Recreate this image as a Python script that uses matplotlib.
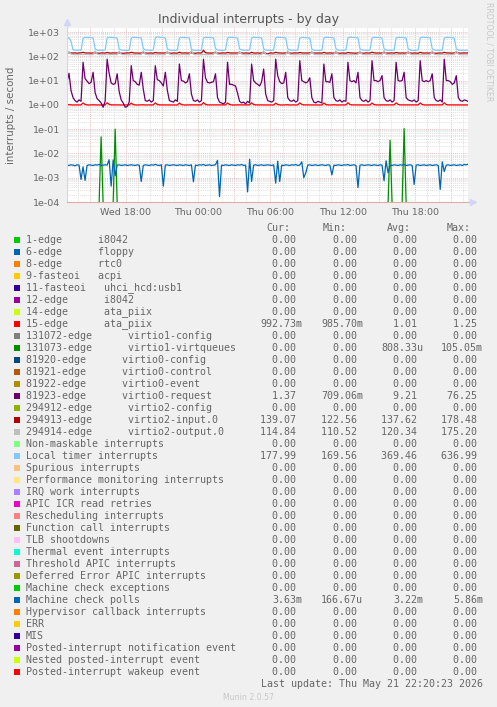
import matplotlib
matplotlib.use('Agg')
import matplotlib.pyplot as plt
from matplotlib.patches import Rectangle
from matplotlib.ticker import FixedLocator, LogLocator, NullFormatter, FuncFormatter
import numpy as np

W, H = 497, 707

# samples every 10 minutes, hours counted from Wed 00:00
t_first = 13.1

timer = [
    580, 575, 420, 185, 180, 178, 182, 176,
    560, 600, 590, 585, 590, 565, 205, 180, 176, 178, 175, 181,
    570, 610, 595, 590, 585, 560, 200, 182, 178, 175, 177, 180,
    565, 605, 600, 588, 590, 570, 210, 183, 177, 179, 176, 182,
    575, 637, 605, 595, 590, 565, 205, 181, 176, 178, 175, 180,
    560, 600, 592, 588, 585, 562, 200, 180, 175, 177, 176, 179,
    570, 615, 598, 590, 588, 568, 208, 184, 178, 176, 175, 181,
    565, 605, 596, 592, 586, 560, 202, 182, 177, 179, 176, 180,
    568, 610, 600, 590, 590, 566, 206, 181, 176, 178, 175, 182,
    572, 620, 602, 594, 588, 570, 204, 183, 178, 177, 176, 180,
    560, 600, 590, 586, 584, 560, 200, 180, 175, 176, 174, 179,
    566, 608, 597, 591, 587, 565, 207, 182, 177, 178, 176, 181,
    570, 612, 600, 593, 589, 567, 205, 183, 178, 176, 175, 180,
    563, 604, 594, 590, 586, 562, 203, 181, 176, 178, 177, 179,
    568, 610, 598, 592, 588, 566, 206, 182, 177, 175, 176, 181,
    571, 615, 601, 594, 590, 568, 204, 183, 178, 177, 175, 180,
    565, 606, 596, 591, 587, 563, 202, 181, 176, 178, 176, 179,
    178]

virtio0_request = [
    8.5, 20, 3.9, 2.0, 1.5, 1.3, 1.6, 1.4,
    57, 12, 9.5, 7.5, 8.5, 22, 3.2, 1.8, 1.5, 1.2, 0.8, 1.4,
    76.25, 20, 8, 7, 7.5, 19, 3.5, 1.6, 1.2, 0.8, 0.85, 1.3,
    41, 10, 9, 7, 6.5, 22, 4.5, 1.5, 1.4, 1.6, 1.3, 1.5,
    41, 11, 10, 8, 6, 22, 4, 1.5, 1.4, 1.3, 1.6, 1.4,
    48, 10, 9.5, 8, 9, 19, 2.8, 1.5, 1.4, 1.6, 1.3, 1.5,
    76, 13, 8.5, 8, 8.5, 9, 19, 2, 1.3, 1.2, 1.1, 1.3,
    57, 7, 7, 6.5, 6, 3, 1.4, 1.2, 1.3, 1.1, 1.4, 1.2,
    48, 10, 8, 7, 6, 9, 30, 2.8, 1.5, 1.4, 1.3, 1.5,
    76, 16, 9, 7.5, 8, 22, 2, 1.5, 1.4, 1.6, 1.3, 1.5,
    66, 10, 9, 8, 9, 13, 2, 1.3, 1.2, 1.4, 1.3, 1.2,
    48, 9, 9, 8.5, 19, 2, 1.5, 1.4, 1.6, 1.3, 1.5, 1.4,
    57, 10, 9, 10, 8, 22, 2, 1.5, 1.4, 1.6, 1.3, 1.5,
    66, 10, 10, 9, 10, 16, 2, 1.5, 1.4, 1.6, 1.3, 1.5,
    57, 10, 9.5, 10, 22, 2, 1.6, 1.5, 1.4, 1.6, 1.3, 1.5,
    66, 10, 9, 10, 9, 10, 19, 2, 1.5, 1.4, 1.6, 1.3,
    76, 10, 10, 9, 7, 8, 16, 2, 1.5, 1.4, 1.6, 1.5,
    1.37]

virtio2_input = [
    138, 140, 137, 136, 138, 135, 137, 139,
    145, 138, 136, 137, 135, 138, 140, 136, 134, 137, 138, 135,
    144, 137, 135, 138, 136, 137, 139, 135, 133, 136, 138, 136,
    146, 139, 136, 137, 134, 138, 141, 137, 135, 136, 137, 134,
    143, 138, 137, 135, 136, 139, 140, 136, 134, 137, 136, 135,
    147, 137, 136, 138, 135, 137, 139, 135, 133, 138, 137, 136,
    178, 140, 137, 136, 135, 138, 141, 136, 134, 136, 138, 135,
    144, 138, 136, 137, 136, 137, 140, 137, 135, 137, 136, 134,
    145, 137, 135, 138, 134, 138, 139, 135, 123, 136, 137, 135,
    146, 139, 137, 136, 135, 137, 140, 136, 134, 137, 138, 136,
    143, 138, 136, 137, 136, 138, 141, 137, 135, 136, 137, 135,
    145, 137, 135, 138, 135, 137, 139, 136, 133, 137, 136, 134,
    144, 138, 137, 136, 134, 138, 140, 135, 134, 138, 137, 136,
    147, 139, 136, 137, 136, 137, 141, 137, 135, 136, 138, 135,
    143, 138, 135, 138, 135, 138, 139, 136, 134, 137, 136, 134,
    146, 137, 136, 137, 136, 137, 140, 135, 133, 136, 137, 136,
    145, 138, 137, 136, 135, 138, 141, 137, 135, 137, 138, 136,
    139.07]

virtio2_output = [
    117, 160, 122, 118, 116, 117, 119, 118,
    118, 117, 119, 116, 118, 117, 168, 123, 117, 115, 118, 116,
    119, 116, 118, 117, 119, 116, 165, 122, 116, 118, 117, 115,
    117, 118, 116, 119, 117, 118, 170, 121, 118, 116, 117, 119,
    118, 116, 117, 118, 116, 117, 163, 124, 117, 115, 118, 116,
    116, 118, 119, 117, 118, 116, 175.2, 122, 116, 118, 117, 115,
    119, 117, 116, 118, 117, 119, 166, 121, 118, 116, 117, 118,
    117, 118, 116, 117, 119, 117, 160, 123, 117, 115, 118, 116,
    118, 116, 117, 119, 116, 118, 168, 122, 116, 111, 117, 119,
    117, 118, 116, 118, 117, 116, 171, 121, 118, 116, 117, 115,
    119, 117, 118, 116, 118, 117, 164, 122, 117, 118, 116, 118,
    116, 118, 117, 119, 116, 118, 169, 123, 116, 115, 117, 116,
    118, 117, 116, 118, 117, 119, 167, 121, 118, 116, 118, 117,
    117, 119, 118, 116, 118, 116, 172, 122, 117, 118, 116, 115,
    119, 116, 117, 118, 117, 118, 165, 124, 116, 117, 118, 116,
    118, 117, 116, 119, 116, 117, 170, 121, 118, 115, 117, 119,
    117, 118, 117, 116, 118, 117, 166, 122, 117, 116, 118, 115,
    114.84]

ata_piix_15 = [
    1.0, 1.02, 1.0, 0.99, 1.0, 1.0, 0.99, 1.0,
    1.2, 1.04, 1.0, 0.99, 1.0, 1.01, 1.0, 0.99, 1.0, 0.99, 1.0, 1.0,
    1.22, 1.05, 1.0, 1.0, 0.99, 1.0, 1.01, 1.0, 0.99, 1.0, 1.0, 0.99,
    1.18, 1.03, 1.0, 0.99, 1.0, 1.0, 1.01, 0.99, 1.0, 1.0, 0.99, 1.0,
    1.21, 1.04, 1.0, 1.0, 0.99, 1.01, 1.0, 1.0, 0.99, 1.0, 1.0, 0.99,
    1.19, 1.03, 1.0, 0.99, 1.0, 1.0, 1.0, 0.99, 1.0, 1.01, 1.0, 1.0,
    1.25, 1.05, 1.0, 1.0, 0.99, 1.0, 1.01, 1.0, 0.99, 1.0, 0.99, 1.0,
    1.2, 1.04, 1.0, 0.99, 1.0, 1.0, 1.0, 0.99, 1.0, 1.0, 0.99, 1.0,
    1.22, 1.03, 1.0, 1.0, 0.99, 1.01, 1.0, 1.0, 0.99, 1.0, 1.0, 0.99,
    1.18, 1.04, 1.0, 0.99, 1.0, 1.0, 1.01, 0.99, 1.0, 1.0, 0.99, 1.0,
    1.21, 1.05, 1.0, 1.0, 0.99, 1.0, 1.0, 1.0, 0.99, 1.0, 1.0, 0.99,
    1.2, 1.03, 1.0, 0.99, 1.0, 1.01, 1.0, 0.99, 1.0, 1.0, 0.99, 1.0,
    1.23, 1.04, 1.0, 1.0, 0.99, 1.0, 1.01, 1.0, 0.99, 1.0, 1.0, 0.99,
    1.19, 1.03, 1.0, 0.99, 1.0, 1.0, 1.0, 0.99, 1.0, 1.01, 1.0, 1.0,
    1.21, 1.05, 1.0, 1.0, 0.99, 1.0, 1.01, 1.0, 0.99, 1.0, 0.99, 1.0,
    1.2, 1.04, 1.0, 0.99, 1.0, 1.0, 1.0, 0.99, 1.0, 1.0, 0.99, 1.0,
    1.22, 1.03, 1.0, 1.0, 0.99, 1.01, 1.0, 1.0, 0.99, 1.0, 1.0, 0.99,
    0.99273]

# virtio1-virtqueues is zero except for a few short bursts (sample index -> rate)
virtqueue_idx = [17, 24, 161, 168]
virtqueue_val = [0.048, 0.1, 0.035, 0.10505]

# machine check polls, in milli-interrupts per second
mce_polls_m = [
    3.3, 3.2, 3.4, 3.3, 3.1, 3.4, 3.3, 0.85, 2.8, 0.78,
    3.2, 3.4, 3.3, 3.2, 3.4, 3.3, 3.5, 3.2, 3.3, 3.4,
    3.3, 5.5, 0.45, 5.4, 1.2, 3.3, 3.4, 3.2, 3.3, 3.4,
    3.2, 3.3, 3.4, 3.3, 3.2, 3.4, 3.3, 0.7, 3.2, 3.4,
    3.3, 3.2, 3.4, 3.3, 3.5, 3.3, 3.2, 3.4, 0.45, 3.3,
    3.4, 3.2, 3.3, 3.4, 3.3, 3.2, 3.4, 3.3, 3.2, 3.4,
    3.3, 3.2, 3.4, 0.68, 3.3, 3.2, 3.4, 3.3, 3.5, 3.2,
    3.3, 3.4, 3.2, 3.3, 3.4, 5.2, 0.167, 3.3, 3.2, 3.4,
    3.3, 3.2, 3.4, 3.3, 3.2, 3.4, 3.3, 3.5, 3.2, 3.3,
    0.26, 5.8, 0.7, 3.3, 3.4, 3.2, 3.3, 3.4, 3.2, 3.3,
    3.4, 3.3, 3.2, 3.4, 0.6, 4.8, 0.7, 3.3, 3.2, 3.4,
    3.3, 3.2, 3.4, 3.3, 3.5, 3.2, 3.3, 4.5, 1.0, 1.6,
    3.3, 3.4, 3.2, 3.3, 3.4, 3.2, 3.3, 3.4, 3.3, 3.2,
    3.4, 3.3, 1.3, 3.3, 3.2, 3.4, 3.3, 3.2, 3.4, 3.3,
    3.5, 3.2, 3.3, 3.4, 3.2, 0.39, 3.3, 3.4, 3.2, 3.3,
    3.4, 3.3, 3.2, 3.4, 3.3, 3.2, 3.4, 3.3, 0.75, 5.0,
    1.6, 3.3, 3.2, 3.4, 3.3, 3.2, 3.4, 3.3, 3.5, 3.2,
    3.3, 3.4, 3.2, 0.53, 3.3, 3.4, 3.2, 3.3, 3.4, 3.2,
    3.3, 3.4, 3.2, 3.3, 3.4, 3.2, 0.33, 4.5, 1.8, 3.3,
    3.4, 3.2, 3.3, 3.4, 3.2, 3.3, 3.4, 3.2, 3.5, 3.4,
    3.63]

grid_hours = [15, 18, 21, 24, 27, 30, 33, 36, 39, 42, 45]
grid_labels = ['', 'Wed 18:00', '', 'Thu 00:00', '', 'Thu 06:00', '',
               'Thu 12:00', '', 'Thu 18:00', '']

legend_names = [
    '1-edge      i8042', '6-edge      floppy', '8-edge      rtc0',
    '9-fasteoi   acpi', '11-fasteoi   uhci_hcd:usb1', '12-edge      i8042',
    '14-edge      ata_piix', '15-edge      ata_piix',
    '131072-edge      virtio1-config', '131073-edge      virtio1-virtqueues',
    '81920-edge      virtio0-config', '81921-edge      virtio0-control',
    '81922-edge      virtio0-event', '81923-edge      virtio0-request',
    '294912-edge      virtio2-config', '294913-edge      virtio2-input.0',
    '294914-edge      virtio2-output.0', 'Non-maskable interrupts',
    'Local timer interrupts', 'Spurious interrupts',
    'Performance monitoring interrupts', 'IRQ work interrupts',
    'APIC ICR read retries', 'Rescheduling interrupts',
    'Function call interrupts', 'TLB shootdowns', 'Thermal event interrupts',
    'Threshold APIC interrupts', 'Deferred Error APIC interrupts',
    'Machine check exceptions', 'Machine check polls',
    'Hypervisor callback interrupts', 'ERR', 'MIS',
    'Posted-interrupt notification event', 'Nested posted-interrupt event',
    'Posted-interrupt wakeup event']

palette = ['#00CC00', '#0066B3', '#FF8000', '#FFCC00', '#330099', '#990099',
           '#CCFF00', '#FF0000', '#808080', '#008F00', '#00487D', '#B35A00',
           '#B38F00', '#6B006B', '#8FB300', '#B30000', '#BEBEBE', '#80FF80',
           '#80C9FF', '#FFC080', '#FFE680', '#AA80FF', '#EE00CC', '#FF8080',
           '#666600', '#FFBFFF', '#00FFCC', '#CC6699', '#999900']
legend_colors = [palette[i % len(palette)] for i in range(len(legend_names))]

z = '0.00'
cur_vals = [z] * 7 + ['992.73m'] + [z] * 5 + ['1.37', z, '139.07', '114.84', z, '177.99'] + [z] * 11 + ['3.63m'] + [z] * 6
min_vals = [z] * 7 + ['985.70m'] + [z] * 5 + ['709.06m', z, '122.56', '110.52', z, '169.56'] + [z] * 11 + ['166.67u'] + [z] * 6
avg_vals = [z] * 7 + ['1.01', z, '808.33u', z, z, z, '9.21', z, '137.62', '120.34', z, '369.46'] + [z] * 11 + ['3.22m'] + [z] * 6
max_vals = [z] * 7 + ['1.25', z, '105.05m', z, z, z, '76.25', z, '178.48', '175.20', z, '636.99'] + [z] * 11 + ['5.86m'] + [z] * 6

# ---------------------------------------------------------------------------
n = len(timer)
t = t_first + np.arange(n) / 6.0
virtqueues = np.zeros(n)
virtqueues[virtqueue_idx] = virtqueue_val
mce_polls = np.array(mce_polls_m) * 1e-3

font_col = '#666666'
axis_col = '#CFD6F8'
mono = 'DejaVu Sans Mono'
y_bottom = 1e-4


def fx(x):
    return x / W


def fy(y):
    return 1 - y / H


fig = plt.figure(figsize=(W / 100, H / 100), dpi=100, facecolor='#F0F0F0')
ax = fig.add_axes([fx(67), fy(202), (468 - 67) / W, (202 - 28) / H])
ax.set_facecolor('white')
ax.set_yscale('log')
ax.set_xlim(t_first, t_first + 401 / 12.04)
ax.set_ylim(y_bottom, 1462)

# grid
ax.yaxis.set_major_locator(LogLocator(base=10, numticks=20))
ax.yaxis.set_minor_locator(LogLocator(base=10, subs=np.arange(2, 10), numticks=20))
ax.yaxis.set_minor_formatter(NullFormatter())
ax.yaxis.set_major_formatter(FuncFormatter(lambda v, p: '%.0e' % v))
ax.xaxis.set_major_locator(FixedLocator(grid_hours))
ax.set_xticklabels(grid_labels)
ax.xaxis.set_minor_locator(FixedLocator(np.arange(14, 47)))
ax.grid(which='minor', color='#D4D4D4', lw=0.5, ls=(0, (1.5, 1.5)))
ax.grid(which='major', color='#E3AAAA', lw=0.5, ls=(0, (1.5, 1.5)))
ax.set_axisbelow(True)
ax.tick_params(which='both', length=0, labelsize=6.8, labelcolor=font_col)
ax.tick_params(axis='y', pad=5)
ax.tick_params(axis='x', pad=4)
for s in ax.spines.values():
    s.set_visible(False)

# series, in munin drawing order
lw = 0.9
ax.plot(t, ata_piix_15, color=legend_colors[7], lw=lw)
# zero samples drawn just under the bottom edge, as rrdtool does on a log graph
ax.plot(t, np.maximum(virtqueues, 0.9 * y_bottom), color=legend_colors[9], lw=lw)
ax.plot(t, virtio0_request, color=legend_colors[13], lw=lw)
ax.plot(t, virtio2_input, color=legend_colors[15], lw=lw)
ax.plot(t, virtio2_output, color=legend_colors[16], lw=lw)
ax.plot(t, timer, color=legend_colors[18], lw=lw)
ax.plot(t, mce_polls, color=legend_colors[30], lw=lw)

# axes with arrows
ax.plot([0, 0], [0, 1.035], transform=ax.transAxes, color=axis_col, lw=0.8, clip_on=False)
ax.plot([0, 1.012], [0, 0], transform=ax.transAxes, color='#E3AAAA', lw=0.8, clip_on=False)
ax.plot([0], [1.035], transform=ax.transAxes, marker='^', ms=4, color=axis_col, clip_on=False)
ax.plot([1.012], [0], transform=ax.transAxes, marker='>', ms=4, color=axis_col, clip_on=False)

fig.text(fx(11), fy(115), 'interrupts / second', fontsize=7.4, color=font_col,
         rotation=90, ha='center', va='center')
fig.text(fx(248), fy(19), 'Individual interrupts - by day', fontsize=9,
         color='#555555', ha='center', va='center')
fig.text(fx(489), fy(52), 'RRDTOOL / TOBI OETIKER', fontsize=5.6,
         color='#C8C8C8', ha='center', va='center', rotation=270)

# legend table
leg_fs = 7.2
col_right = [296, 357, 417, 477]
head_right = [290, 347, 411, 471]
for hx, htxt in zip(head_right, ['Cur:', 'Min:', 'Avg:', 'Max:']):
    fig.text(fx(hx), fy(228), htxt, fontsize=leg_fs, family=mono,
             color=font_col, ha='right', va='center')

for r, name in enumerate(legend_names):
    y = 240 + 12 * r
    fig.patches.append(Rectangle((fx(14), fy(y + 3)), 6 / W, 6 / H,
                                 transform=fig.transFigure, facecolor=legend_colors[r],
                                 edgecolor='none'))
    fig.text(fx(26), fy(y), name, fontsize=leg_fs, family=mono,
             color=font_col, ha='left', va='center')
    for cx, vals in zip(col_right, [cur_vals, min_vals, avg_vals, max_vals]):
        v = vals[r]
        if v[-1].isdigit():
            v = v + ' '
        fig.text(fx(cx + 6), fy(y), v, fontsize=leg_fs, family=mono,
                 color=font_col, ha='right', va='center')

fig.text(fx(483), fy(684), 'Last update: Thu May 21 22:20:23 2026',
         fontsize=leg_fs, family=mono, color=font_col, ha='right', va='center')
fig.text(fx(248), fy(697), 'Munin 2.0.57', fontsize=5.6, color='#C8C8C8',
         ha='center', va='center')

fig.savefig('out.png', dpi=100, facecolor=fig.get_facecolor())
